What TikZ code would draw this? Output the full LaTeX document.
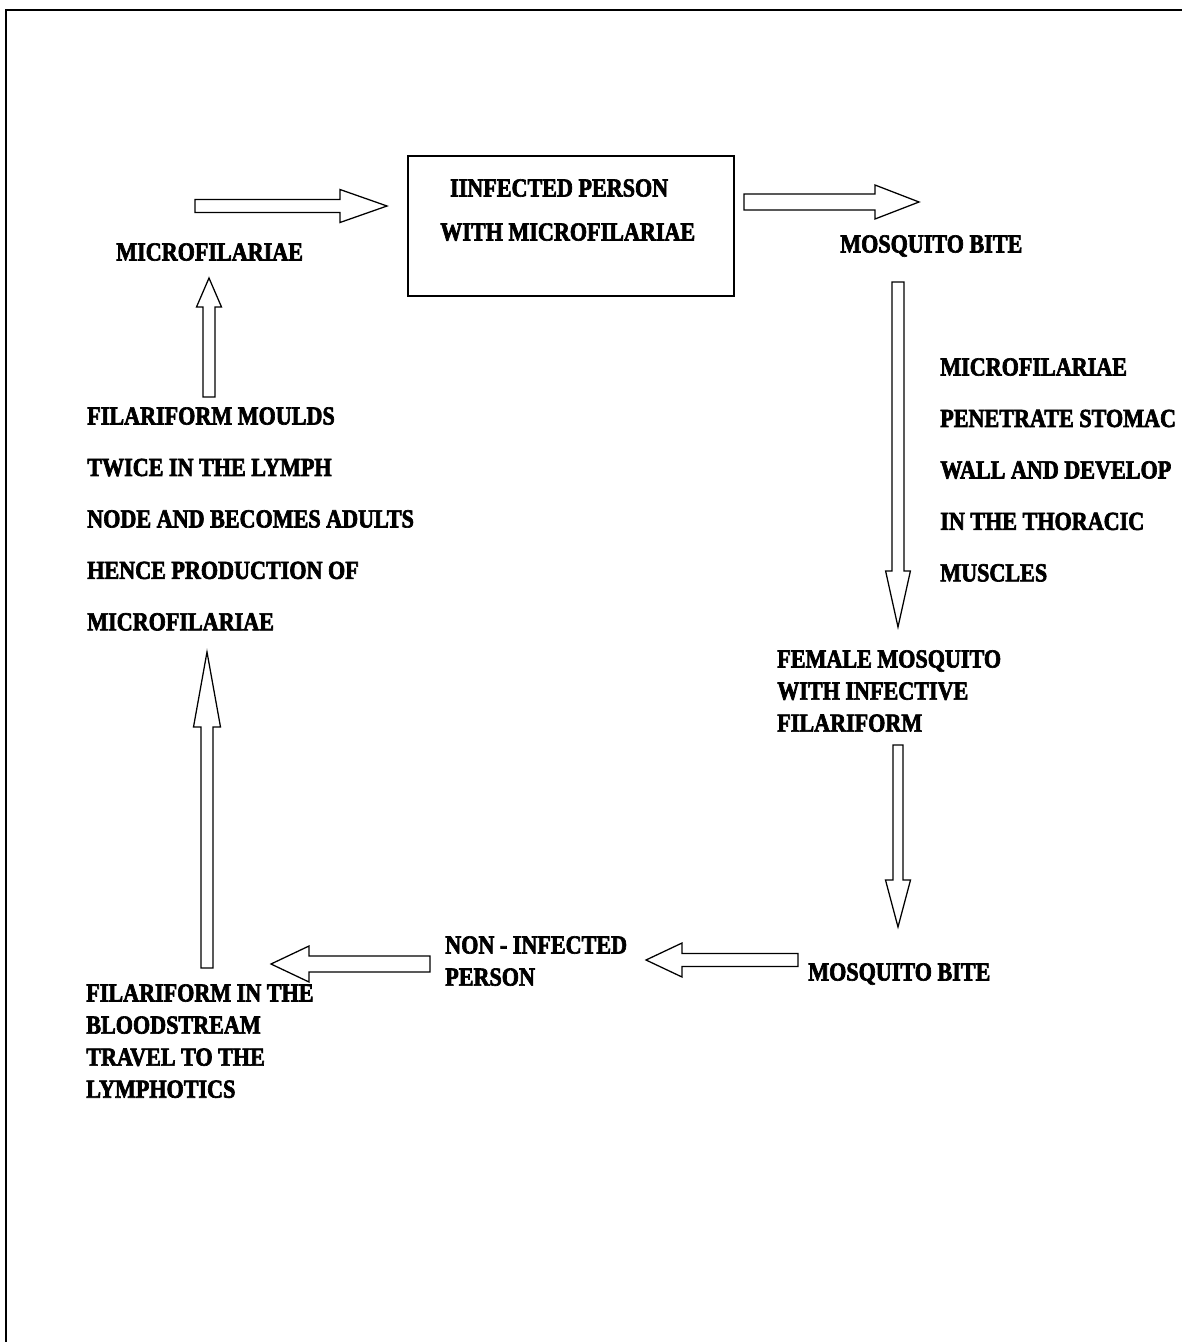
\documentclass[tikz,border=0pt]{standalone}
\usepackage{fontspec}
\setmainfont{Liberation Serif}[FakeStretch=0.85, BoldFeatures={FakeBold=2.5}]
\usetikzlibrary{calc}

% hollow block arrow: #1 tail, #2 tip, #3 head length, #4 head half-width, #5 shaft half-width
\newcommand\blockarrow[5]{%
  \path ($(#2)!#3!(#1)$) coordinate (hb);
  \draw[arrowline]
    ($(#1)!#5!90:(#2)$) -- ($(hb)!#5!90:(#2)$) -- ($(hb)!#4!90:(#2)$) -- (#2)
    -- ($(hb)!#4!-90:(#2)$) -- ($(hb)!#5!-90:(#2)$) -- ($(#1)!#5!-90:(#2)$) -- cycle;
}

\tikzset{
  arrowline/.style={draw=black, fill=white, line width=0.9pt, line join=miter},
  frameline/.style={draw=black, line width=1.8pt},
  boxline/.style={draw=black, line width=1.1pt},
  lbl/.style={inner sep=0pt, anchor=north west, align=left, text=black},
  wide/.style={font=\bfseries\fontsize{18.5}{36.6}\selectfont},
  tight/.style={font=\bfseries\fontsize{18.5}{22.8}\selectfont},
  boxed/.style={font=\bfseries\fontsize{18.5}{31.3}\selectfont},
}

\begin{document}
\begin{tikzpicture}[x=0.025cm, y=-0.025cm]
\useasboundingbox (0,0) rectangle (1182,1342);
\fill[white] (0,0) rectangle (1182,1342);

% outer frame
\draw[frameline] (6,1342) -- (6,10) -- (1182,10);

% central box
\node[boxline, minimum width=8.15cm, minimum height=3.5cm, anchor=north west, inner sep=0pt] (infected) at (407,155) {};
\node[lbl, boxed] (infectedtxt) at (440,179) {\hspace{7pt}IINFECTED PERSON\\WITH MICROFILARIAE};

% labels
\node[lbl, wide] (micro) at (116,243) {MICROFILARIAE};
\node[lbl, wide] (biteTop) at (840,235) {MOSQUITO BITE};
\node[lbl, wide] (penetrate) at (940,358) {MICROFILARIAE\\PENETRATE STOMAC\\WALL AND DEVELOP\\IN THE THORACIC\\MUSCLES};
\node[lbl, tight] (female) at (777,650) {FEMALE MOSQUITO\\WITH INFECTIVE\\FILARIFORM};
\node[lbl, wide] (biteBottom) at (808,963) {MOSQUITO BITE};
\node[lbl, tight] (noninf) at (445,936) {NON - INFECTED\\PERSON};
\node[lbl, tight] (blood) at (86,984) {FILARIFORM IN THE\\BLOODSTREAM\\TRAVEL TO THE\\LYMPHOTICS};
\node[lbl, wide] (moulds) at (87,407) {FILARIFORM MOULDS\\TWICE IN THE LYMPH\\NODE AND BECOMES ADULTS\\HENCE PRODUCTION OF\\MICROFILARIAE};

% arrow end points
\coordinate (a1s) at (195,206);  \coordinate (a1t) at (387,206);
\coordinate (a2s) at (744,202);  \coordinate (a2t) at (919,202);
\coordinate (a4s) at (898,282);  \coordinate (a4t) at (898,627);
\coordinate (a5s) at (898,745);  \coordinate (a5t) at (898,927);
\coordinate (a6s) at (798,960);  \coordinate (a6t) at (646,960);
\coordinate (a7s) at (430,964);  \coordinate (a7t) at (271,964);
\coordinate (a8s) at (207,968);  \coordinate (a8t) at (207,652);
\coordinate (a3s) at (209,397);  \coordinate (a3t) at (209,278);

% cycle arrows
\blockarrow{a1s}{a1t}{1.175cm}{0.4125cm}{0.1625cm}
\blockarrow{a2s}{a2t}{1.1cm}{0.425cm}{0.2cm}
\blockarrow{a4s}{a4t}{1.4cm}{0.31cm}{0.15cm}
\blockarrow{a5s}{a5t}{1.175cm}{0.3125cm}{0.125cm}
\blockarrow{a6s}{a6t}{0.9cm}{0.425cm}{0.1625cm}
\blockarrow{a7s}{a7t}{0.95cm}{0.45cm}{0.2cm}
\blockarrow{a8s}{a8t}{1.875cm}{0.3375cm}{0.15cm}
\blockarrow{a3s}{a3t}{0.725cm}{0.3125cm}{0.15cm}
\end{tikzpicture}
\end{document}
